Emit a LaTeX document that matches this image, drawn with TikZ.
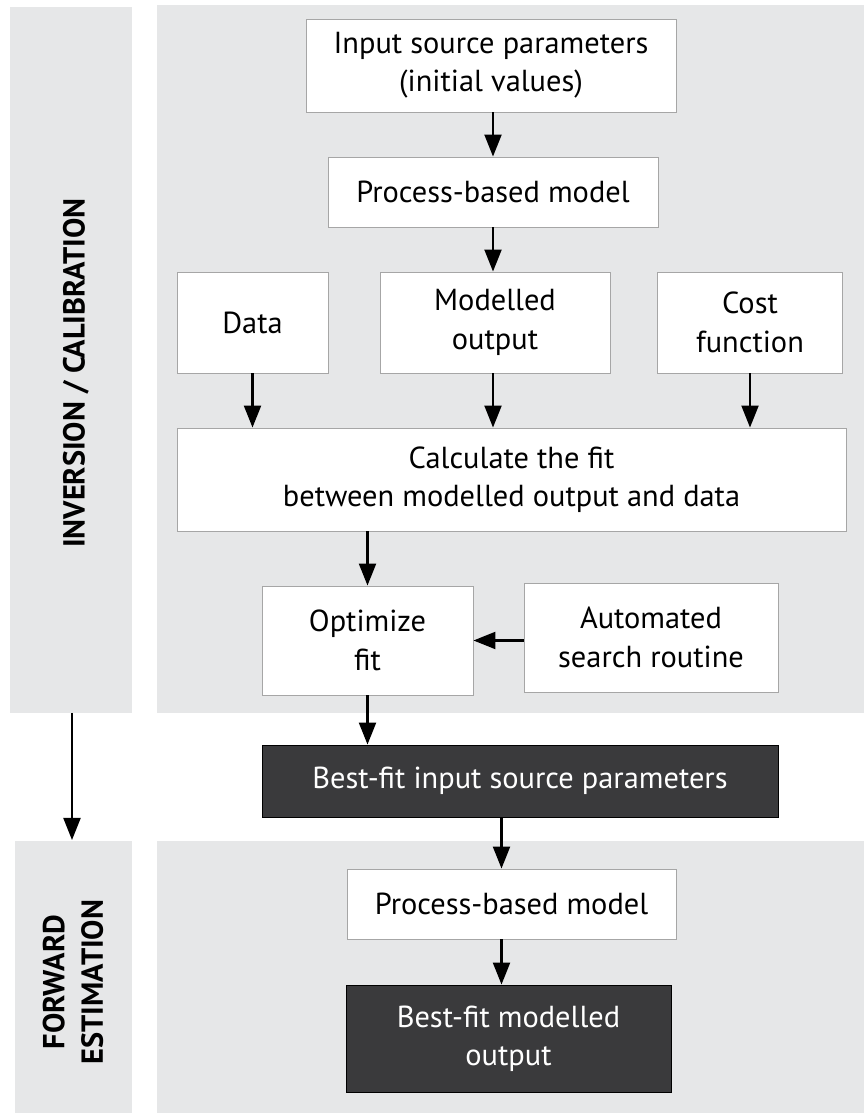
\documentclass[tikz,border=0pt]{standalone}
\usepackage{fontspec}
\setmainfont{PT Sans}
\usepackage{xcolor}
\usepackage{tikz}
\usetikzlibrary{arrows.meta,positioning}

\definecolor{panelgray}{HTML}{E6E7E8}
\definecolor{darkfill}{HTML}{3A3A3C}
\newcommand{\boxfont}{\fontsize{17.3}{21.8}\selectfont}
\newcommand{\sidefont}{\fontsize{17.3}{21.8}\selectfont\bfseries}

\begin{document}
\begin{tikzpicture}[x=1cm,y=1cm,
    panel/.style={fill=panelgray},
    box/.style={draw=gray!70, fill=white, line width=0.5pt, align=center,
        inner sep=0pt, font=\boxfont},
    darkbox/.style={box, draw=black, fill=darkfill, text=white},
    flow/.style={-{Triangle[length=0.44cm,width=0.34cm]}, line width=1.2pt}]
    \useasboundingbox (0,0) rectangle (17.28,22.26);

    % background panels
    \fill[panel] (0.20,8.00) rectangle (2.64,22.12);
    \fill[panel] (3.14,8.00) rectangle (17.28,22.16);
    \fill[panel] (0.30,0) rectangle (2.64,5.44);
    \fill[panel] (3.14,0) rectangle (17.28,5.44);

    \node[rotate=90, align=center, font=\sidefont] (calib) at (1.52,14.80)
        {INVERSION / CALIBRATION};
    \node[rotate=90, align=center, font=\sidefont] (fwd) at (1.46,2.62)
        {FORWARD\\ESTIMATION};
    \coordinate (calibend) at (1.44,8.00);
    \coordinate (fwdtop) at (1.44,5.46);
    \draw[flow] (calibend) -- (fwdtop);

    % inversion / calibration
    \node[box, minimum width=7.40cm, minimum height=1.86cm] (input) at (9.82,20.95)
        {Input source parameters\\(initial values)};
    \node[box, minimum width=6.60cm, minimum height=1.40cm] (proc) at (9.86,18.42)
        {Process-based model};
    \node[box, minimum width=3.02cm, minimum height=2.02cm] (data) at (5.05,15.81)
        {Data};
    \node[box, minimum width=4.60cm, minimum height=2.02cm] (modout) at (9.90,15.81)
        {Modelled\\output};
    \node[box, minimum width=3.69cm, minimum height=2.02cm] (cost) at (15.00,15.81)
        {Cost\\function};
    \node[box, minimum width=13.38cm, minimum height=2.06cm] (calc) at (10.23,12.67)
        {Calculate the fit\\between modelled output and data};
    \node[box, minimum width=4.22cm, minimum height=2.18cm] (optim) at (7.35,9.45)
        {Optimize\\fit};
    \node[box, minimum width=5.08cm, minimum height=2.18cm] (search) at (13.02,9.51)
        {Automated\\search routine};
    \node[darkbox, minimum width=10.32cm, minimum height=1.44cm] (bestin) at (10.40,6.64)
        {Best-fit input source parameters};

    % forward estimation
    \node[box, minimum width=6.58cm, minimum height=1.40cm] (proctwo) at (10.23,4.18)
        {Process-based model};
    \node[darkbox, minimum width=6.50cm, minimum height=2.14cm] (bestout) at (10.17,1.49)
        {Best-fit modelled\\output};

    \draw[flow] (input.south -| proc.north) -- (proc.north);
    \draw[flow] (proc.south) -- (proc.south |- modout.north);
    \draw[flow] (data.south) -- (data.south |- calc.north);
    \draw[flow] (proc.south |- modout.south) -- (proc.south |- calc.north);
    \draw[flow] (cost.south) -- (cost.south |- calc.north);
    \draw[flow] (optim.north |- calc.south) -- (optim.north);
    \draw[flow] (search.west |- optim.east) -- (optim.east);
    \draw[flow] (optim.south) -- (optim.south |- bestin.north);
    \draw[flow] ([xshift=-0.2cm]proctwo.north |- bestin.south) -- ([xshift=-0.2cm]proctwo.north);
    \draw[flow] ([xshift=-0.2cm]proctwo.south) -- ([xshift=-0.2cm]proctwo.south |- bestout.north);
\end{tikzpicture}
\end{document}
